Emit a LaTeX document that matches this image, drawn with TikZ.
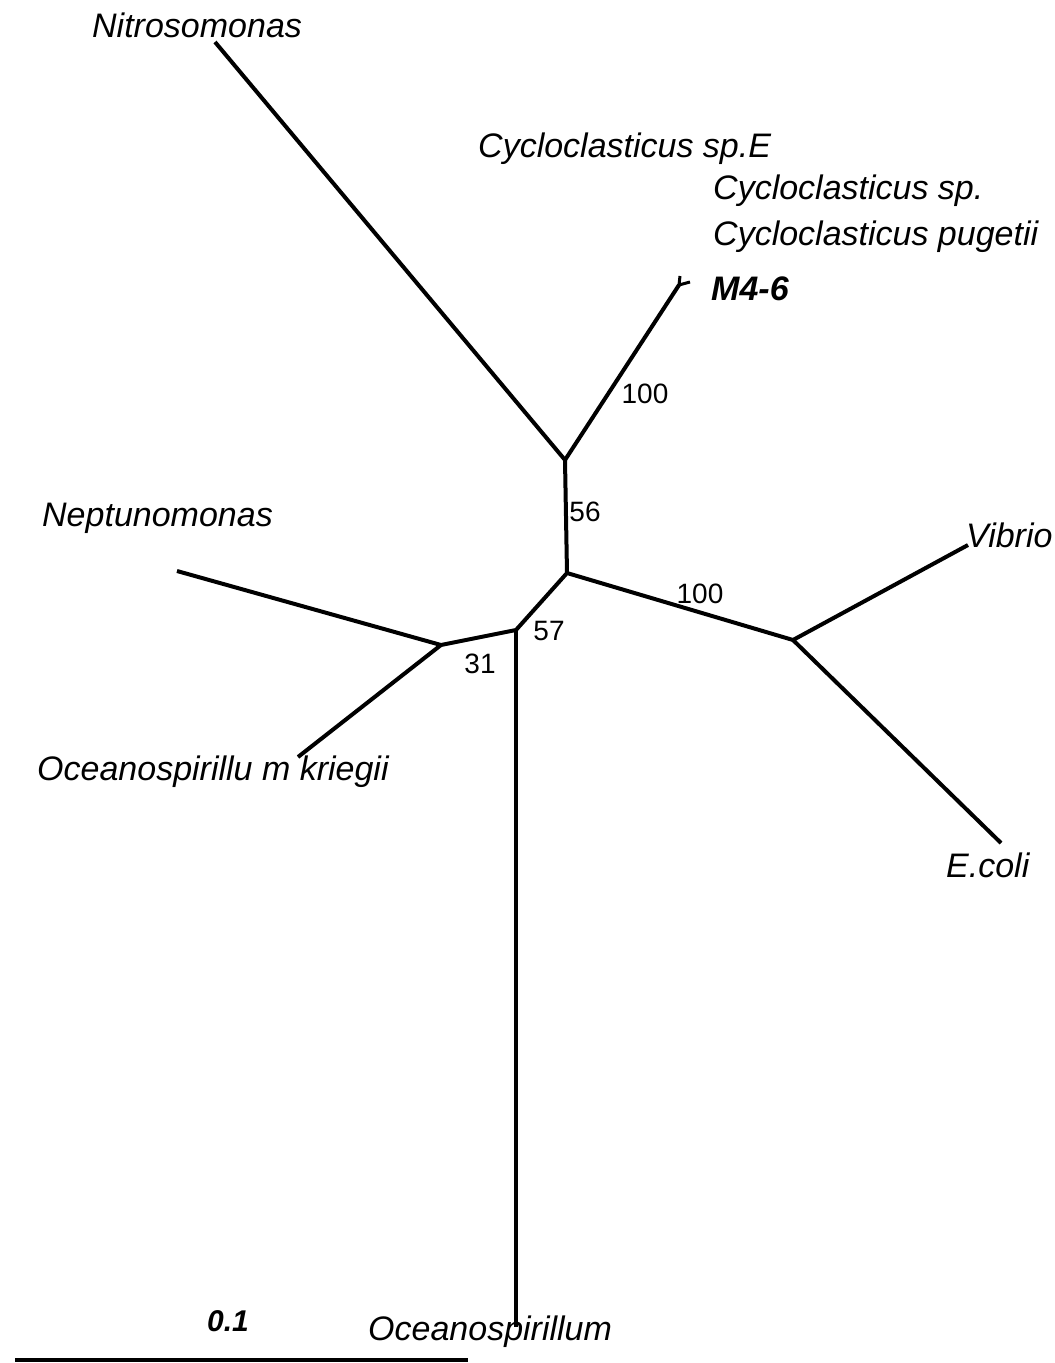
\documentclass[tikz,border=0pt]{standalone}
\usepackage{fontspec}
\setmainfont{Liberation Sans}
\usetikzlibrary{positioning}

\tikzset{
  branch/.style={line width=4pt,line cap=butt},
  taxon/.style={font=\fontsize{34}{40}\selectfont\itshape,inner sep=0pt,anchor=base west},
  boot/.style={font=\fontsize{28}{32}\selectfont,inner sep=0pt,anchor=base}
}

\begin{document}
\begin{tikzpicture}[x=1pt,y=-1pt]
\useasboundingbox (0,0) rectangle (1055,1363);
% inner nodes
\coordinate (nA) at (565,460);
\coordinate (nB) at (567,573);
\coordinate (nC) at (793,640);
\coordinate (nD) at (516,630);
\coordinate (nE) at (441,645);
% tips
\coordinate (tNitro) at (215,42);
\coordinate (tCyclo) at (679,285);
\coordinate (tCycloA) at (680,276);
\coordinate (tCycloB) at (690,282);
\coordinate (tVibrio) at (968,545);
\coordinate (tEcoli) at (1001,843);
\coordinate (tNept) at (177,571);
\coordinate (tKrieg) at (298,757);
\coordinate (tOcean) at (516,1327);
\coordinate (sL) at (15,1360);
\coordinate (sR) at (468,1360);
\draw[branch] (tNitro)--(nA)--(tCyclo);
\draw[line width=3pt] (tCyclo)--(tCycloA);
\draw[line width=3pt] (tCyclo)--(tCycloB);
\draw[branch] (nA)--(nB)--(nC)--(tVibrio);
\draw[branch] (nC)--(tEcoli);
\draw[branch] (nB)--(nD)--(nE)--(tNept);
\draw[branch] (nE)--(tKrieg);
\draw[branch] (nD)--(tOcean);
\draw[branch] (sL)--(sR);
% labels
\node[taxon] (lNitro) at (92,37) {Nitrosomonas};
\node[taxon] (lCycloE) at (478,157) {Cycloclasticus sp.E};
\node[taxon] (lCycloSp) at (713,199) {Cycloclasticus sp.};
\node[taxon] (lCycloP) at (713,245) {Cycloclasticus pugetii};
\node[taxon,font=\fontsize{34}{40}\selectfont\bfseries\itshape] (lM) at (711,300) {M4-6};
\node[taxon] (lVibrio) at (966,547) {Vibrio};
\node[taxon] (lEcoli) at (946,877) {E.coli};
\node[taxon] (lNept) at (42,526) {Neptunomonas};
\node[taxon] (lKrieg) at (37,780) {Oceanospirillu m kriegii};
\node[taxon] (lOcean) at (368,1340) {Oceanospirillum};
\node[boot,font=\fontsize{30}{34}\selectfont\bfseries\itshape] (lScale) at (228,1331) {0.1};
% bootstrap values
\node[boot] (b1) at (645,403) {100};
\node[boot] (b2) at (585,521) {56};
\node[boot] (b3) at (700,603) {100};
\node[boot] (b4) at (549,640) {57};
\node[boot] (b5) at (480,673) {31};
\end{tikzpicture}
\end{document}
